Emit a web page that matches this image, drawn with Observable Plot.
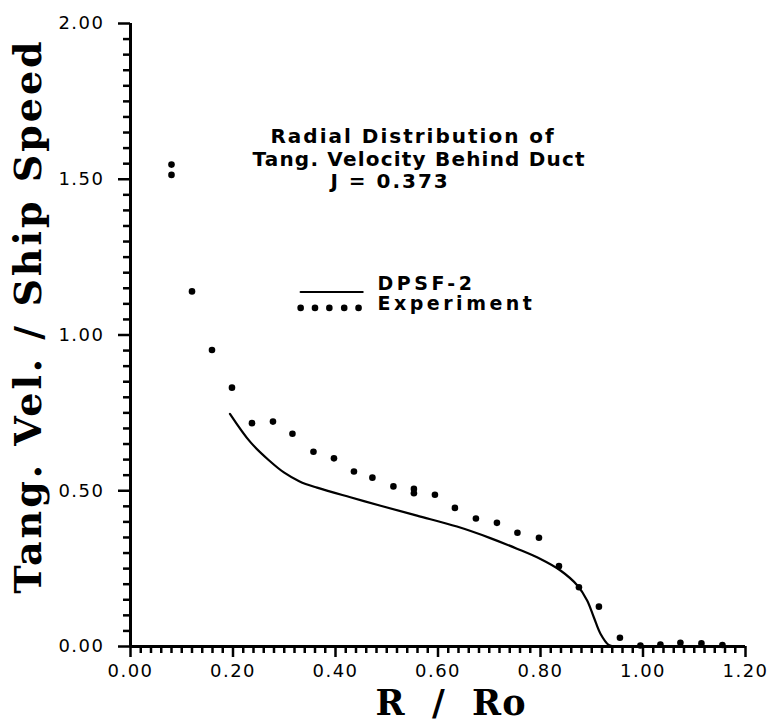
<!DOCTYPE html>
<html><head><meta charset="utf-8">
<script src="https://cdn.jsdelivr.net/npm/d3@7"></script>
<script src="https://cdn.jsdelivr.net/npm/@observablehq/plot@0.6"></script>
<style>html,body{margin:0;padding:0;background:#fff} svg{display:block}</style>
</head><body><div id="chart"></div>
<script>
// Experiment (dotted)
const expR = [0.080,0.080,0.120,0.159,0.198,0.237,0.278,0.316,0.357,0.397,0.436,0.472,0.513,0.553,0.553,0.594,0.633,0.674,0.715,0.755,0.797,0.836,0.875,0.914,0.955,0.995,1.034,1.073,1.114,1.155];
const expV = [1.547,1.514,1.140,0.952,0.831,0.717,0.722,0.683,0.625,0.604,0.562,0.542,0.514,0.506,0.492,0.487,0.445,0.411,0.397,0.365,0.349,0.258,0.190,0.128,0.028,0.003,0.006,0.012,0.010,0.005];
// DPSF-2 (solid)
const dpsfR = [0.194,0.234,0.270,0.300,0.330,0.364,0.429,0.488,0.559,0.637,0.702,0.754,0.800,0.839,0.872,0.891,0.904,0.917,0.933,0.943];
const dpsfV = [0.747,0.656,0.598,0.558,0.530,0.510,0.479,0.452,0.420,0.385,0.348,0.314,0.281,0.244,0.196,0.148,0.094,0.041,0.005,0.000];

const xTickValues = [0,0.2,0.4,0.6,0.8,1.0,1.2];
const xTickLabels = ["0.00","0.20","0.40","0.60","0.80","1.00","1.20"];
const yTickValues = [0,0.5,1.0,1.5,2.0];
const yTickLabels = ["0.00","0.50","1.00","1.50","2.00"];
const xLabel = "R\u00a0\u00a0/\u00a0\u00a0Ro";
const yLabel = "Tang.\u00a0Vel.\u00a0/\u00a0Ship\u00a0Speed";
const titleLines = ["Radial Distribution of","Tang. Velocity Behind Duct","J = 0.373"];
const legendLabels = ["DPSF-2","Experiment"];

// annotation placement (data coordinates)
const titlePos = [{x:0.273,y:1.637},{x:0.238,y:1.563},{x:0.390,y:1.493}];
const titleSpacing = ["2px","1.2px","2px"];
const legLineR = [0.332,0.453], legLineV = 1.138;
const legDotR = [0.332,0.360,0.388,0.417,0.445], legDotV = 1.087;
const legTextR = 0.482, legTextV = [1.163,1.099];

const expData = expR.map((r,i)=>({r, v:expV[i]}));
const dpsfData = dpsfR.map((r,i)=>({r, v:dpsfV[i]}));
const xMinor = d3.range(0,61).filter(i=>i%10!==0).map(i=>i*0.02);
const yMinor = d3.range(0,41).filter(i=>i%10!==0).map(i=>i*0.05);

const titleFont = "'DejaVu Sans', sans-serif";

const chart = Plot.plot({
  width: 770, height: 722,
  marginLeft: 130, marginRight: 25, marginTop: 23, marginBottom: 76,
  style: {fontFamily: "'DejaVu Sans', sans-serif", fontSize: "18px", color: "black", background: "white"},
  x: {domain: [0,1.2], axis: null, label: null},
  y: {domain: [0,2], axis: null, label: null},
  marks: [
    // minor ticks
    Plot.axisX(xMinor, {tickSize: 7, text: null, strokeWidth: 2.5, anchor: "bottom", label: null}),
    Plot.axisY(yMinor, {tickSize: 7, text: null, strokeWidth: 2.5, anchor: "left", label: null}),
    // major ticks + labels
    Plot.axisX(xTickValues, {tickSize: 11, tickPadding: 7, strokeWidth: 2.5, anchor: "bottom",
      tickFormat: (d,i)=>xTickLabels[i], fontSize: 18, label: null}),
    Plot.axisY(yTickValues, {tickSize: 12, tickPadding: 14, strokeWidth: 2.5, anchor: "left",
      tickFormat: (d,i)=>yTickLabels[i], fontSize: 18, label: null}),
    // axis lines
    Plot.ruleX([0], {y1: 0, y2: 2, strokeWidth: 3}),
    Plot.ruleY([0], {x1: 0, x2: 1.2, strokeWidth: 3}),
    // data
    Plot.line(dpsfData, {x: "r", y: "v", strokeWidth: 2.2, curve: "catmull-rom"}),
    Plot.dot(expData, {x: "r", y: "v", r: 3.3, fill: "black", stroke: null}),
    // title
    Plot.text(titleLines, {x: (d,i)=>titlePos[i].x, y: (d,i)=>titlePos[i].y, text: d=>d,
      textAnchor: "start", fontSize: 20, fontWeight: "bold", fontFamily: titleFont}),
    // legend
    Plot.line(legLineR, {x: d=>d, y: ()=>legLineV, strokeWidth: 2.2}),
    Plot.dot(legDotR, {x: d=>d, y: ()=>legDotV, r: 3.3, fill: "black", stroke: null}),
    Plot.text(legendLabels, {x: ()=>legTextR, y: (d,i)=>legTextV[i], text: d=>d,
      textAnchor: "start", fontSize: 19, fontWeight: "bold", fontFamily: titleFont}),
    // axis labels
    Plot.text([xLabel], {frameAnchor: "bottom", text: d=>d, dy: 68, dx: 13, textAnchor: "middle",
      fontSize: 35, fontWeight: "bold", fontFamily: "'DejaVu Serif', serif"}),
    Plot.text([yLabel], {frameAnchor: "left", text: d=>d, rotate: -90, dx: -102, dy: -19, textAnchor: "middle",
      fontSize: 38, fontWeight: "bold", fontFamily: "'DejaVu Serif', serif"})
  ]
});
document.getElementById("chart").appendChild(chart);
d3.select(chart).selectAll("text").each(function() {
  const t = this.textContent;
  if (xTickLabels.includes(t) || yTickLabels.includes(t)) this.style.letterSpacing = "1.5px";
  else if (titleLines.includes(t)) this.style.letterSpacing = titleSpacing[titleLines.indexOf(t)];
  else if (legendLabels.includes(t)) this.style.letterSpacing = "3.5px";
  else if (t === yLabel) this.style.letterSpacing = "3px";
  else if (t === xLabel) this.style.letterSpacing = "1px";
});
</script>
</body></html>
